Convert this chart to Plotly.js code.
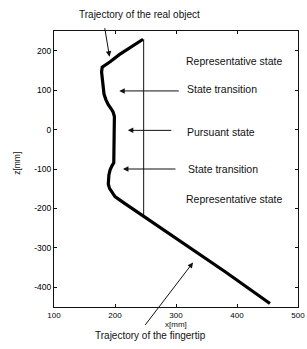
<!DOCTYPE html>
<html>
<head>
<meta charset="utf-8">
<script src="https://cdn.plot.ly/plotly-3.0.1.min.js"></script>
<style>html,body{margin:0;padding:0;background:#fff;}#chart{width:307px;height:349px;}</style>
</head>
<body>
<div id="chart"></div>
<script>
// Trajectory (x [mm], z [mm])
const trajX = [246, 236, 222, 207, 192, 179, 178, 179, 180, 182, 185, 189, 194, 197, 199, 199, 199, 199, 198, 195, 192, 190, 189, 189, 191, 195, 200, 211, 260, 320, 380, 454];
const trajZ = [229, 219, 205, 190, 172, 158, 146, 128, 110, 90, 76, 63, 52, 44, 33, 0, -40, -70, -84, -92, -102, -115, -126, -138, -149, -160, -170, -182, -234, -297, -360, -441];
// Vertical reference line
const vlineX = [247, 247];
const vlineZ = [229, -219];

const xTicks = [100, 200, 300, 400, 500];
const zTicks = [-400, -300, -200, -100, 0, 100, 200];

const FONT = 'Liberation Sans, Arial, sans-serif';

const traces = [
  {x: vlineX, y: vlineZ, mode: 'lines', line: {color: '#111', width: 1}, hoverinfo: 'skip'},
  {x: trajX, y: trajZ, mode: 'lines', line: {color: '#000', width: 3.2}, hoverinfo: 'skip'}
];

const txt = (text, x, y, xanchor, size) => ({text, x, y, xref: 'x', yref: 'y', xanchor: xanchor || 'left', yanchor: 'middle', showarrow: false, font: {family: FONT, size: size || 10.5, color: '#111'}});
const ptxt = (text, x, y, size, angle) => ({text, x, y, xref: 'paper', yref: 'paper', xanchor: 'center', yanchor: 'middle', showarrow: false, textangle: angle || 0, font: {family: FONT, size: size, color: '#111'}});
const arr = (x, y, ax, ay) => ({text: '', x, y, xref: 'x', yref: 'y', ax, ay, showarrow: true, arrowhead: 2, arrowsize: 1.1, arrowwidth: 1, arrowcolor: '#111', standoff: 0});

const layout = {
  width: 307, height: 349,
  margin: {l: 54, r: 9, t: 31, b: 42},
  paper_bgcolor: '#fff', plot_bgcolor: '#fff',
  showlegend: false,
  font: {family: FONT, size: 8, color: '#111'},
  xaxis: {range: [100, 500], tickvals: xTicks, ticktext: xTicks.map(String), ticks: 'inside', ticklen: 3, tickcolor: '#111',
          showline: true, linecolor: '#111', linewidth: 1, mirror: 'ticks', showgrid: false, zeroline: false,
          tickfont: {family: FONT, size: 8, color: '#000'}},
  yaxis: {range: [-450, 250], tickvals: zTicks, ticktext: zTicks.map(String), ticks: 'inside', ticklen: 3, tickcolor: '#111',
          showline: true, linecolor: '#111', linewidth: 1, mirror: 'ticks', showgrid: false, zeroline: false,
          tickfont: {family: FONT, size: 8.5, color: '#000'}},
  annotations: [
    ptxt('Trajectory of the real object', 0.352, 1.058, 10),
    arr(191, 185, -5, -30),
    txt('Representative state', 313, 174),
    txt('State transition', 314, 103),
    arr(207, 98, 61, 0),
    txt('Pursuant state', 315, -6),
    arr(221, -2, 45, 0),
    txt('State transition', 316, -99),
    arr(213, -100, 54, 0),
    txt('Representative state', 313, -175),
    arr(328, -337, -49, 64),
    ptxt('Trajectory of the fingertip', 0.395, -0.104, 10),
    ptxt('x[mm]', 0.5, -0.065, 8),
    ptxt('z[mm]', -0.152, 0.522, 8.5, -90)
  ]
};

Plotly.newPlot('chart', traces, layout, {staticPlot: true, displayModeBar: false});
</script>
</body>
</html>
